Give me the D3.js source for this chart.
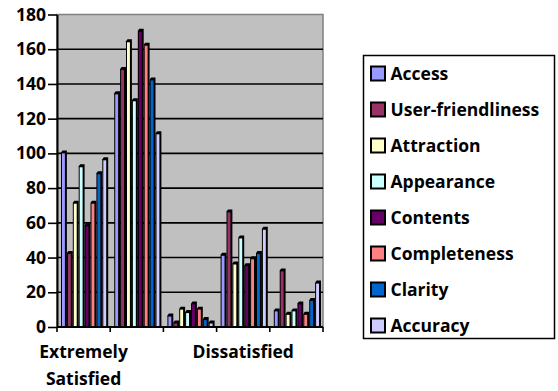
<!DOCTYPE html>
<html>
<head>
<meta charset="utf-8">
<script src="https://cdn.jsdelivr.net/npm/d3@7"></script>
<style>
  html, body { margin: 0; padding: 0; background: #ffffff; }
  svg { display: block; }
  text { font-family: "Open Sans", "Noto Sans", sans-serif; font-weight: bold; fill: #000; }
</style>
</head>
<body>
<svg id="chart" width="558" height="391"></svg>
<script>
// Survey responses per rating category
const categories = ["Extremely Satisfied", "Satisfied", "Neutral", "Dissatisfied", "Extremely Dissatisfied"];
const seriesNames = ["Access", "User-friendliness", "Attraction", "Appearance", "Contents", "Completeness", "Clarity", "Accuracy"];
const seriesColors = ["#9999FF", "#993366", "#FFFFCC", "#CCFFFF", "#660066", "#FF8080", "#0066CC", "#CCCCFF"];

const access           = [100, 134, 6, 41, 9];
const userFriendliness = [42, 148, 2, 66, 32];
const attraction       = [71, 164, 10, 36, 7];
const appearance       = [92, 130, 8, 51, 9];
const contents         = [58, 170, 13, 35, 13];
const completeness     = [71, 162, 10, 39, 7];
const clarity          = [88, 142, 4, 42, 15];
const accuracy         = [96, 111, 2, 56, 25];

const yTicks = [0, 20, 40, 60, 80, 100, 120, 140, 160, 180];
// only every third category label is shown on the axis
const labelledCategories = [0, 3];

const seriesValues = [access, userFriendliness, attraction, appearance, contents, completeness, clarity, accuracy];

const svg = d3.select("#chart");
const plot = { left: 57, right: 323, top: 14.5, bottom: 327 };
const fontSize = "17.5px";

const x0 = d3.scaleBand().domain(categories).range([plot.left, plot.right]).padding(0);
const x1 = d3.scaleBand().domain(seriesNames).range([4, x0.bandwidth() - 2]).padding(0);
const y = d3.scaleLinear().domain([0, 180]).range([plot.bottom, plot.top]);

// plot area background
svg.append("rect")
  .attr("x", plot.left).attr("y", plot.top)
  .attr("width", plot.right - plot.left).attr("height", plot.bottom - plot.top)
  .attr("fill", "#C0C0C0").attr("stroke", "#808080").attr("stroke-width", 1.5);

// horizontal gridlines
svg.append("g").selectAll("line")
  .data(yTicks.filter(t => t > 0 && t < 180))
  .join("line")
  .attr("x1", plot.left).attr("x2", plot.right)
  .attr("y1", d => y(d)).attr("y2", d => y(d))
  .attr("stroke", "#000").attr("stroke-width", 1.6);

// bars: dark depth shape behind a coloured front face
const groups = svg.append("g").selectAll("g")
  .data(categories)
  .join("g")
  .attr("transform", d => `translate(${x0(d)},0)`);

groups.each(function (cat, ci) {
  const g = d3.select(this);
  seriesNames.forEach((name, si) => {
    const v = seriesValues[si][ci];
    const bx = x1(name);
    const p = x1.bandwidth();
    const top = y(v);
    const base = y(0);
    g.append("path")
      .attr("d", `M${bx},${base} L${bx},${top - 1} L${bx + 1.5},${top - 3} L${bx + p},${top - 3} L${bx + p},${base} Z`)
      .attr("fill", "#000");
    g.append("rect")
      .attr("x", bx + 1).attr("y", top)
      .attr("width", p - 3).attr("height", Math.max(0, base - top))
      .attr("fill", seriesColors[si]);
  });
});

// y axis
const yAxis = d3.axisLeft(y).tickValues(yTicks).tickSize(9).tickSizeOuter(0).tickPadding(2);
const yg = svg.append("g").attr("transform", `translate(${plot.left},0)`).call(yAxis);
yg.select(".domain").attr("stroke", "#000").attr("stroke-width", 2);
yg.selectAll(".tick line").attr("stroke", "#000").attr("stroke-width", 1.6);
yg.selectAll(".tick text")
  .style("font-family", "'Open Sans', sans-serif").style("font-weight", "bold")
  .style("font-size", fontSize).attr("fill", "#000");

// x axis with ticks at category boundaries
svg.append("line")
  .attr("x1", plot.left).attr("x2", plot.right)
  .attr("y1", plot.bottom).attr("y2", plot.bottom)
  .attr("stroke", "#000").attr("stroke-width", 2);
const boundaries = categories.map(c => x0(c)).concat([x0(categories[categories.length - 1]) + x0.bandwidth()]);
svg.append("g").selectAll("line")
  .data(boundaries)
  .join("line")
  .attr("x1", d => d).attr("x2", d => d)
  .attr("y1", plot.bottom).attr("y2", plot.bottom + 5)
  .attr("stroke", "#000").attr("stroke-width", 1.6);

const xl = svg.append("g").selectAll("text")
  .data(labelledCategories)
  .join("text")
  .attr("text-anchor", "middle")
  .attr("x", i => x0(categories[i]) + x0.bandwidth() / 2)
  .attr("y", 358)
  .style("font-size", fontSize);
xl.each(function (i) {
  const words = categories[i].split(" ");
  const t = d3.select(this);
  words.forEach((w, k) => {
    t.append("tspan")
      .attr("x", x0(categories[i]) + x0.bandwidth() / 2)
      .attr("dy", k === 0 ? 0 : 27)
      .text(w);
  });
});

// legend
const legend = svg.append("g");
legend.append("rect")
  .attr("x", 363.5).attr("y", 55.5).attr("width", 191).attr("height", 283)
  .attr("fill", "#fff").attr("stroke", "#000").attr("stroke-width", 1.5);
const items = legend.selectAll("g.item")
  .data(seriesNames)
  .join("g")
  .attr("class", "item")
  .attr("transform", (d, i) => `translate(0,${73.5 + i * 36})`);
items.append("rect")
  .attr("x", 371).attr("y", -7).attr("width", 14).attr("height", 14)
  .attr("fill", (d, i) => seriesColors[i])
  .attr("stroke", "#000").attr("stroke-width", 2);
items.append("text")
  .attr("x", 390.5).attr("y", 0).attr("dy", "0.35em")
  .style("font-size", fontSize)
  .text(d => d);
</script>
</body>
</html>
